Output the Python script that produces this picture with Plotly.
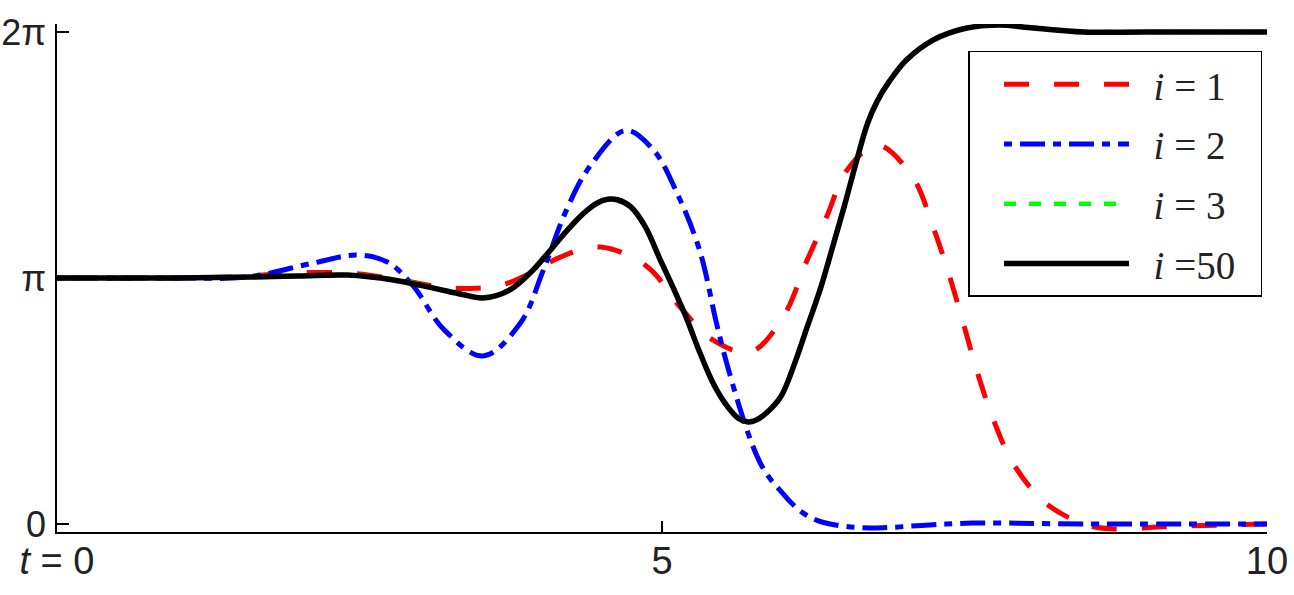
import plotly.graph_objects as go

# time axis values and phase values (in units of pi)
t_i1 = [0, 1.0, 1.5, 1.93, 2.4, 2.8, 3.17, 3.45, 3.7, 3.93, 4.16, 4.49, 4.88, 5.15, 5.42, 5.73,
        6.0, 6.2, 6.36, 6.53, 6.78, 7.07, 7.24, 7.36, 7.49, 7.6, 7.74, 7.9, 8.17, 8.51, 8.73, 9.2, 10]
y_i1 = [1.0, 1.0, 1.005, 1.02, 1.02, 0.995, 0.963, 0.958, 0.975, 1.024, 1.085, 1.126, 1.045, 0.882,
        0.748, 0.699, 0.841, 1.073, 1.248, 1.439, 1.541, 1.411, 1.207, 1.033, 0.817, 0.626, 0.423,
        0.248, 0.085, -0.004, -0.02, -0.01, 0.0]

t_i2 = [0, 1.0, 1.57, 2.12, 2.48, 2.73, 2.94, 3.2, 3.52, 3.83, 4.02, 4.21, 4.4, 4.7, 4.93, 5.12,
        5.31, 5.45, 5.535, 5.7, 5.81, 5.9, 5.975, 6.07, 6.165, 6.28, 6.39, 6.6, 6.78, 7.21, 7.57,
        8.5, 10]
y_i2 = [1.0, 1.0, 1.004, 1.061, 1.093, 1.065, 0.97, 0.789, 0.683, 0.817, 1.033, 1.276, 1.451, 1.6,
        1.52, 1.35, 1.114, 0.817, 0.653, 0.385, 0.25, 0.18, 0.138, 0.085, 0.045, 0.015, 0.0, -0.014,
        -0.016, -0.004, 0.004, 0.0, 0.0]

t_i3 = [0, 1.0, 1.6, 2.0, 2.4, 2.78, 3.11, 3.35, 3.52, 3.74, 3.93, 4.02, 4.10, 4.21, 4.30, 4.38,
        4.47, 4.55, 4.63, 4.74, 4.86, 4.98, 5.09, 5.2, 5.31, 5.43, 5.54, 5.63, 5.71, 5.78, 5.86,
        5.98, 6.1, 6.2, 6.31, 6.41, 6.51, 6.61, 6.70, 6.78, 6.88, 7.02, 7.24, 7.52, 7.79, 8.07,
        8.48, 9.0, 10]
y_i3 = [1.0, 1.0, 1.004, 1.008, 1.012, 0.994, 0.961, 0.935, 0.921, 0.953, 1.032, 1.082, 1.128,
        1.192, 1.24, 1.277, 1.308, 1.322, 1.32, 1.292, 1.212, 1.082, 0.965, 0.842, 0.702, 0.567,
        0.48, 0.432, 0.417, 0.425, 0.452, 0.518, 0.66, 0.803, 0.96, 1.128, 1.3, 1.482, 1.632,
        1.722, 1.802, 1.888, 1.969, 2.018, 2.03, 2.018, 2.002, 2.0, 2.0]

t_i50 = [0, 1.0, 1.6, 2.0, 2.4, 2.78, 3.11, 3.35, 3.52, 3.74, 3.93, 4.02, 4.10, 4.21, 4.30, 4.38,
         4.47, 4.55, 4.63, 4.74, 4.86, 4.98, 5.09, 5.2, 5.31, 5.43, 5.54, 5.63, 5.71, 5.78, 5.86,
         5.98, 6.1, 6.2, 6.31, 6.41, 6.51, 6.61, 6.70, 6.78, 6.88, 7.02, 7.24, 7.52, 7.79, 8.07,
         8.48, 9.0, 10]
y_i50 = [1.0, 1.0, 1.004, 1.008, 1.012, 0.992, 0.959, 0.933, 0.919, 0.951, 1.03, 1.08, 1.126,
         1.19, 1.238, 1.275, 1.306, 1.320, 1.318, 1.29, 1.21, 1.08, 0.963, 0.84, 0.70, 0.565,
         0.478, 0.43, 0.415, 0.423, 0.45, 0.516, 0.658, 0.801, 0.958, 1.126, 1.298, 1.48, 1.63,
         1.72, 1.80, 1.886, 1.967, 2.016, 2.028, 2.016, 2.0, 2.0, 2.0]

x_tickvals = [0, 5, 10]
x_ticktext = ["<i>t</i> = 0", "5", "10"]
y_tickvals = [0, 1, 2]
y_ticktext = ["0", "π", "2π"]

pad = "\u00a0\u00a0"
names = [pad + "<i>i</i> = 1" + pad, pad + "<i>i</i> = 2" + pad,
         pad + "<i>i</i> = 3" + pad, pad + "<i>i</i> =50" + pad]

fig = go.Figure()
fig.add_trace(go.Scatter(x=t_i1, y=y_i1, mode="lines", name=names[0], legendgroup="a",
                         line=dict(color="#ff0000", width=5, dash="25px,25px", shape="spline")))
fig.add_trace(go.Scatter(x=t_i2, y=y_i2, mode="lines", name=names[1], legendgroup="b",
                         line=dict(color="#0000ff", width=5, dash="8px,8px,25px,8px", shape="spline")))
fig.add_trace(go.Scatter(x=t_i3, y=y_i3, mode="lines", name=names[2], legendgroup="c",
                         line=dict(color="#00ff00", width=4.5, dash="12px,13px", shape="spline")))
fig.add_trace(go.Scatter(x=t_i50, y=y_i50, mode="lines", name=names[3], legendgroup="d",
                         line=dict(color="#000000", width=5.5, shape="spline")))

x_font = dict(family="Liberation Sans, Arial, sans-serif", size=38, color="#222222")
y_font = dict(family="Liberation Sans, Arial, sans-serif", size=36, color="#222222")

fig.update_layout(
    width=1294, height=595,
    margin=dict(l=57, r=27, t=24, b=63, autoexpand=False),
    plot_bgcolor="white", paper_bgcolor="white",
    showlegend=True,
    legend=dict(
        x=0.9959, y=0.9469, xanchor="right", yanchor="top",
        bgcolor="white", bordercolor="black", borderwidth=1.5,
        font=dict(family="Liberation Serif, Times New Roman, serif", size=39, color="#222222"),
        itemwidth=125, tracegroupgap=6,
        title=dict(text="\u00a0\u00a0", side="left",
                   font=dict(family="Liberation Serif, Times New Roman, serif", size=39)),
    ),
    xaxis=dict(
        range=[0, 10], tickvals=x_tickvals, ticktext=x_ticktext,
        showline=True, linecolor="black", linewidth=1.5,
        ticks="inside", ticklen=11, tickwidth=1.5, tickcolor="black",
        showgrid=False, zeroline=False, tickfont=x_font, automargin=False,
        ticklabelstandoff=-5,
    ),
    yaxis=dict(
        range=[-0.0325, 2.0325], tickvals=y_tickvals, ticktext=y_ticktext,
        showline=True, linecolor="black", linewidth=1.5,
        ticks="inside", ticklen=12, tickwidth=1.5, tickcolor="black",
        showgrid=False, zeroline=False, tickfont=y_font, automargin=False,
        ticklabelstandoff=2,
    ),
)

# remove the default page margin so the figure sits at the window origin
fig.write_html("out.html", config={"displayModeBar": False},
               post_script="document.body.style.margin='0';")
